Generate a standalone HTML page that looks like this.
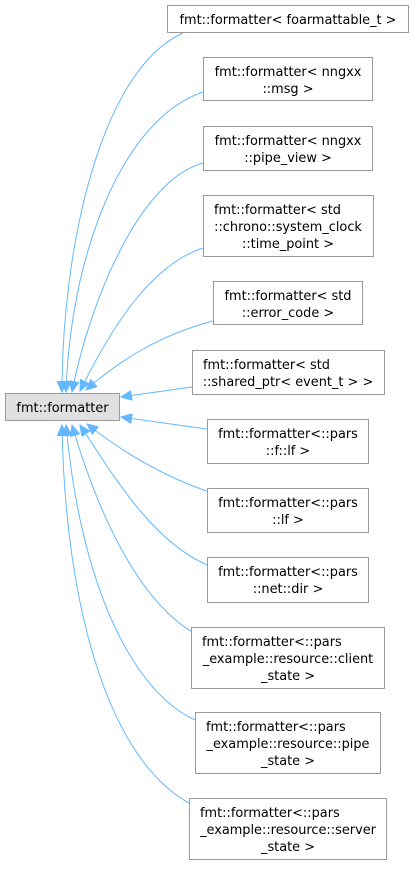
<!DOCTYPE html>
<html><head><meta charset="utf-8"><style>
html,body{margin:0;padding:0;background:#fff;}
svg text{font-family:"DejaVu Sans","Liberation Sans",sans-serif;font-size:12.9px;fill:#000;}
</style></head><body>
<svg width="414" height="865" viewBox="0 0 414 865" xmlns="http://www.w3.org/2000/svg">
<defs>
<marker id="a" markerWidth="12" markerHeight="10" refX="11" refY="5" orient="auto" markerUnits="userSpaceOnUse">
<path d="M0,0 L11,5 L0,10 Z" fill="#63b8ff" stroke="#63b8ff"/>
</marker>
</defs>
<g fill="none" stroke="#63b8ff" stroke-width="1" marker-end="url(#a)">
<path d="M183,33 C100,70 62,250 62,392"/>
<path d="M203,92 C120,120 70,260 66,392"/>
<path d="M203,163 C140,180 90,300 72,392"/>
<path d="M203,248 C150,265 110,330 80,391"/>
<path d="M213,321 C160,335 120,360 86,390"/>
<path d="M192,387 L121,397"/>
<path d="M207,429 L121,417"/>
<path d="M207,491 C160,475 120,450 87,424"/>
<path d="M207,565 C150,540 110,470 80,425"/>
<path d="M192,632 C140,600 100,520 72,425"/>
<path d="M195,720 C130,690 80,580 66,425"/>
<path d="M189,803 C110,760 65,610 62,425"/>
</g>
<g fill="#fff" stroke="#999" stroke-width="1">
<rect x="5.5" y="393.5" width="114" height="27" fill="#e0e0e0"/>
<rect x="167.5" y="5.5" width="241" height="27"/>
<rect x="203.5" y="57.5" width="169" height="43"/>
<rect x="203.5" y="126.5" width="169" height="44"/>
<rect x="203.5" y="195.5" width="170" height="61"/>
<rect x="213.5" y="281.5" width="149" height="43"/>
<rect x="192.5" y="350.5" width="192" height="44"/>
<rect x="207.5" y="419.5" width="161" height="44"/>
<rect x="207.5" y="488.5" width="161" height="44"/>
<rect x="207.5" y="557.5" width="161" height="45"/>
<rect x="191.5" y="627.5" width="193" height="61"/>
<rect x="195.5" y="712.5" width="185" height="61"/>
<rect x="189.5" y="798.5" width="197" height="61"/>
</g>
<g text-anchor="middle">
<text x="62.5" y="412">fmt::formatter</text>
<text x="288" y="24">fmt::formatter&lt; foarmattable_t &gt;</text>
<text x="288" y="76">fmt::formatter&lt; nngxx</text>
<text x="288" y="93">::msg &gt;</text>
<text x="288" y="145">fmt::formatter&lt; nngxx</text>
<text x="288" y="162">::pipe_view &gt;</text>
<text x="214" y="214" text-anchor="start">fmt::formatter&lt; std</text>
<text x="288" y="231">::chrono::system_clock</text>
<text x="288" y="248">::time_point &gt;</text>
<text x="288" y="300">fmt::formatter&lt; std</text>
<text x="288" y="317">::error_code &gt;</text>
<text x="203" y="369" text-anchor="start">fmt::formatter&lt; std</text>
<text x="288" y="386">::shared_ptr&lt; event_t &gt; &gt;</text>
<text x="288" y="438">fmt::formatter&lt;::pars</text>
<text x="288" y="455">::f::lf &gt;</text>
<text x="288" y="507">fmt::formatter&lt;::pars</text>
<text x="288" y="524">::lf &gt;</text>
<text x="288" y="576">fmt::formatter&lt;::pars</text>
<text x="288" y="593">::net::dir &gt;</text>
<text x="202" y="646" text-anchor="start">fmt::formatter&lt;::pars</text>
<text x="288" y="663">_example::resource::client</text>
<text x="288" y="680">_state &gt;</text>
<text x="206" y="731" text-anchor="start">fmt::formatter&lt;::pars</text>
<text x="288" y="748">_example::resource::pipe</text>
<text x="288" y="765">_state &gt;</text>
<text x="200" y="817" text-anchor="start">fmt::formatter&lt;::pars</text>
<text x="288" y="834">_example::resource::server</text>
<text x="288" y="851">_state &gt;</text>
</g>
</svg>
</body></html>
